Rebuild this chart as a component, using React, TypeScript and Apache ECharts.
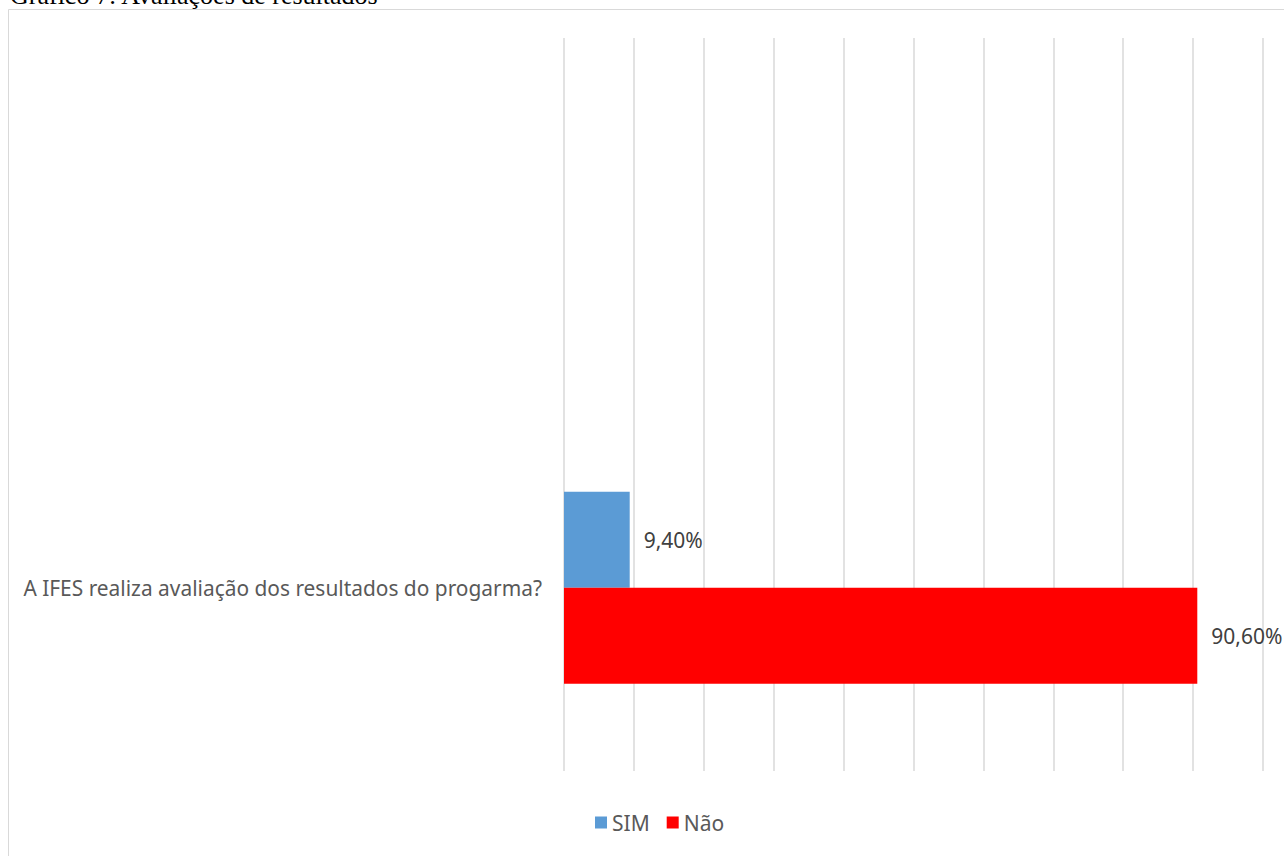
import React, { useEffect, useRef } from "react";
import * as echarts from "echarts";

const categories = ["A IFES realiza avaliação dos resultados do progarma?", ""];
const seriesNames = ["SIM", "Não"];
const simValues = [9.4, null];
const naoValues = [90.6, null];
const xTicks = [0, 10, 20, 30, 40, 50, 60, 70, 80, 90, 100];
const title = "Gráfico 7: Avaliações de resultados";

const fmt = (v: number) => v.toFixed(2).replace(".", ",") + "%";

export default function App() {
  const ref = useRef<HTMLDivElement>(null);
  useEffect(() => {
    if (!ref.current) return;
    const chart = echarts.init(ref.current, null, { renderer: "svg" });
    const labelStyle = {
      show: true,
      position: "right" as const,
      distance: 14,
      color: "#404040",
      fontSize: 21,
      fontFamily: "Noto Sans",
      formatter: (p: any) => fmt(p.value),
    };
    chart.setOption({
      animation: false,
      backgroundColor: "#ffffff",
      graphic: [
        {
          type: "rect",
          shape: { x: 8.5, y: 9.5, width: 1400, height: 1000 },
          style: { fill: "none", stroke: "#d9d9d9", lineWidth: 1 },
          silent: true,
        },
        {
          type: "text",
          x: 10,
          y: -18,
          style: {
            text: title,
            fill: "#000000",
            font: "26px 'Liberation Serif'",
          },
        },
      ],
      legend: {
        data: seriesNames,
        bottom: 18,
        left: 590,
        itemWidth: 12,
        itemHeight: 12,
        itemGap: 17,
        icon: "rect",
        textStyle: { color: "#595959", fontSize: 21, fontFamily: "Noto Sans" },
      },
      grid: { left: 564, right: 21, top: 38, bottom: 85, containLabel: false },
      xAxis: {
        type: "value",
        min: xTicks[0],
        max: xTicks[xTicks.length - 1],
        interval: xTicks[1] - xTicks[0],
        axisLabel: { show: false },
        axisLine: { show: false },
        axisTick: { show: false },
        splitLine: { show: true, lineStyle: { color: "#d9d9d9", width: 1.5 } },
      },
      yAxis: {
        type: "category",
        data: categories,
        axisLine: { show: false },
        axisTick: { show: false },
        axisLabel: {
          color: "#595959",
          fontSize: 20.9,
          fontFamily: "Noto Sans",
          margin: 22,
        },
      },
      series: [
        {
          name: seriesNames[0],
          type: "bar",
          data: simValues,
          barWidth: 96,
          barGap: "0%",
          itemStyle: { color: "#5b9bd5" },
          label: labelStyle,
        },
        {
          name: seriesNames[1],
          type: "bar",
          data: naoValues,
          barWidth: 96,
          barGap: "0%",
          itemStyle: { color: "#ff0000" },
          label: labelStyle,
        },
      ],
    });
    return () => chart.dispose();
  }, []);
  return (
    <div
      ref={ref}
      style={{ position: "fixed", left: 0, top: 0, width: 1284, height: 856 }}
    />
  );
}
